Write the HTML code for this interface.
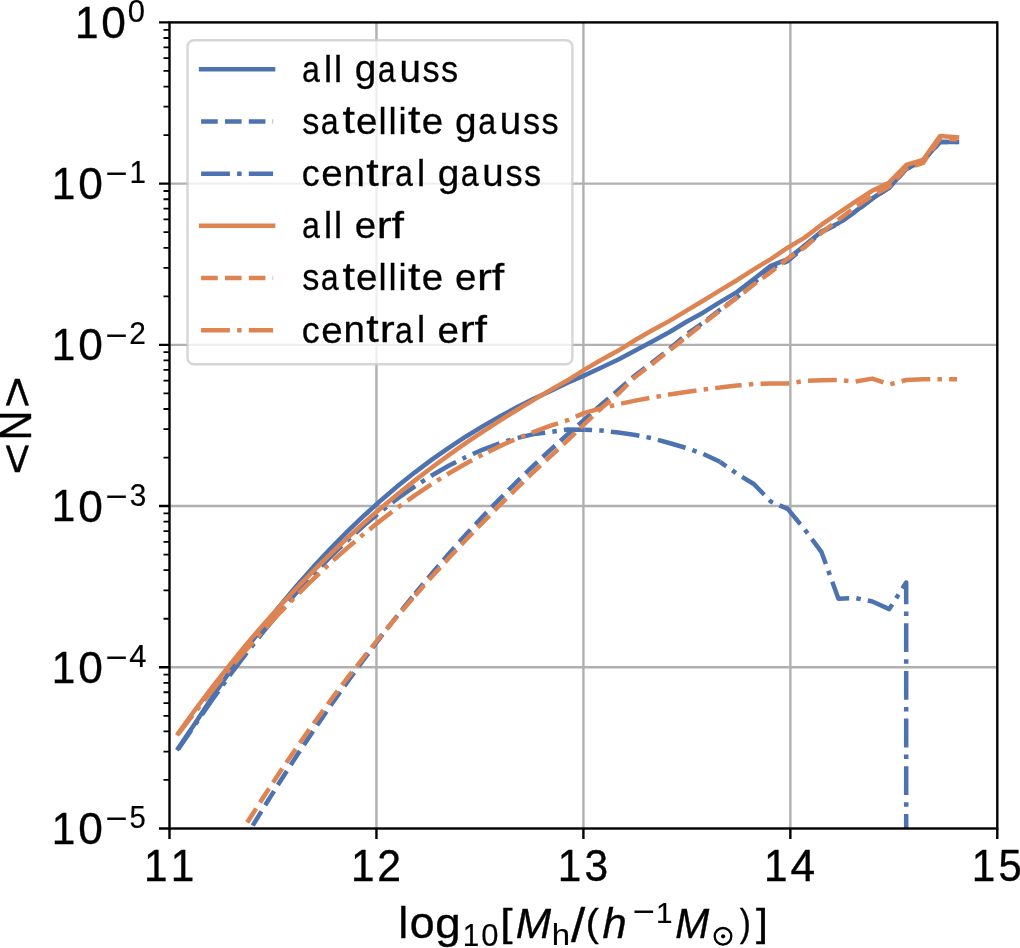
<!DOCTYPE html><html><head><meta charset="utf-8"><style>html,body{margin:0;padding:0;background:#fff;overflow:hidden}svg{display:block;will-change:transform}text{font-family:"Liberation Sans",sans-serif;fill:#000}</style></head><body><svg width="1020" height="948" viewBox="0 0 1020 948"><rect x="0" y="0" width="1020" height="948" fill="#fff"/><defs><clipPath id="ax"><rect x="169.5" y="22.4" width="827.80" height="806.10"/></clipPath></defs><path d="M376.45,22.4V828.5M583.40,22.4V828.5M790.35,22.4V828.5M169.5,183.62H997.3M169.5,344.84H997.3M169.5,506.06H997.3M169.5,667.28H997.3" stroke="#b0b0b0" stroke-width="2.4" fill="none"/><g clip-path="url(#ax)" fill="none" stroke-linejoin="round"><path d="M178.20,748.30 L195.13,723.33 L212.06,697.48 L228.99,672.83 L245.92,649.08 L262.85,626.95 L279.78,605.84 L296.71,585.75 L313.64,566.66 L330.57,548.56 L347.50,531.42 L364.43,515.22 L381.36,499.95 L398.29,485.58 L415.22,472.08 L432.15,459.42 L449.08,447.56 L466.01,436.47 L482.94,426.10 L499.87,416.40 L516.80,407.31 L533.73,398.78 L550.66,390.95 L567.59,382.75 L584.52,375.32 L601.45,367.50 L618.38,359.55 L635.31,350.47 L652.24,341.47 L669.17,332.29 L686.10,322.00 L703.03,312.70 L719.96,302.20 L736.89,292.10 L753.82,279.00 L770.75,265.80 L787.68,259.10 L804.61,245.60 L821.54,231.60 L838.47,223.20 L855.40,211.40 L872.33,198.50 L889.26,187.50 L906.19,168.90 L923.12,160.50 L940.05,142.10 L956.98,142.10" stroke="#4c72b0" stroke-width="4.5" stroke-linecap="square"/><path d="M178.20,956.12 L195.13,925.03 L212.06,894.78 L228.99,865.36 L245.92,836.76 L262.85,808.96 L279.78,781.96 L296.71,755.75 L313.64,730.32 L330.57,705.65 L347.50,681.73 L364.43,658.56 L381.36,636.12 L398.29,614.41 L415.22,593.41" stroke="#4c72b0" stroke-width="4.5" stroke-linecap="butt" stroke-dasharray="16.65 7.2" stroke-dashoffset="16.61"/><path d="M415.22,593.41 L432.15,573.11 L449.08,553.50 L466.01,534.58 L482.94,516.32 L499.87,498.72 L516.80,481.77 L533.73,465.46 L550.66,449.60 L567.59,434.40 L584.52,419.50 L601.45,404.50 L618.38,390.00 L635.31,375.20 L652.24,362.60 L669.17,349.00 L686.10,334.67 L703.03,322.71 L719.96,309.76 L736.89,297.54 L753.82,282.85 L770.75,268.26 L787.68,261.10 L804.61,246.83 L821.54,232.32 L838.47,223.53 L855.40,211.68 L872.33,198.72 L889.26,187.67 L906.19,169.09 L923.12,160.50 L940.05,142.10 L956.98,142.10" stroke="#4c72b0" stroke-width="4.5" stroke-linecap="butt" stroke-dasharray="16.65 7.2" stroke-dashoffset="3.92"/><path d="M178.20,749.30 L195.13,724.61 L212.06,700.01 L228.99,676.42 L245.92,653.85 L262.85,632.32 L279.78,611.82 L296.71,592.36 L313.64,573.96 L330.57,556.61 L347.50,540.34 L364.43,525.14 L381.36,511.03 L398.29,498.00 L415.22,486.08" stroke="#4c72b0" stroke-width="4.5" stroke-linecap="butt" stroke-dasharray="28.8 7.2 4.5 7.2" stroke-dashoffset="5.72"/><path d="M415.22,486.08 L432.15,475.27 L449.08,465.57 L466.01,457.00" stroke="#4c72b0" stroke-width="4.5" stroke-linecap="butt" stroke-dasharray="28.8 7.2 4.5 7.2" stroke-dashoffset="28.98"/><path d="M466.01,457.00 L482.94,449.56 L499.87,443.26 L516.80,438.11 L533.73,434.12" stroke="#4c72b0" stroke-width="4.5" stroke-linecap="butt" stroke-dasharray="28.8 7.2 4.5 7.2" stroke-dashoffset="40.22"/><path d="M533.73,434.12 L550.66,432.00 L567.59,429.50 L584.52,429.67" stroke="#4c72b0" stroke-width="4.5" stroke-linecap="butt" stroke-dasharray="28.8 7.2 4.5 7.2" stroke-dashoffset="17.25"/><path d="M584.52,429.67 L601.45,430.49 L618.38,432.60 L635.31,435.03 L652.24,438.20 L669.17,442.99 L686.10,447.93 L703.03,453.85 L719.96,461.80" stroke="#4c72b0" stroke-width="4.5" stroke-linecap="butt" stroke-dasharray="28.8 7.2 4.5 7.2" stroke-dashoffset="21.21"/><path d="M719.96,461.80 L736.89,473.70 L753.82,484.00 L770.75,501.50 L787.68,508.90 L804.61,529.30 L821.54,552.20 L838.47,598.80 L855.40,598.00 L872.33,601.50 L889.26,609.10 L906.19,582.50 L906.20,2000.00" stroke="#4c72b0" stroke-width="4.5" stroke-linecap="butt" stroke-dasharray="28.8 7.2 4.5 7.2" stroke-dashoffset="20.99"/><path d="M178.20,733.40 L195.13,709.76 L212.06,687.44 L228.99,665.99 L245.92,644.88 L262.85,625.18 L279.78,606.25 L296.71,588.07 L313.64,570.62 L330.57,553.88 L347.50,537.83 L364.43,522.45 L381.36,507.72 L398.29,493.62 L415.22,480.12 L432.15,467.20 L449.08,454.82 L466.01,442.95 L482.94,431.55 L499.87,420.60 L516.80,410.03 L533.73,399.82 L550.66,389.88 L567.59,380.32 L584.52,369.61 L601.45,359.80 L618.38,350.54 L635.31,340.03 L652.24,330.31 L669.17,321.11 L686.10,310.90 L703.03,300.70 L719.96,290.40 L736.89,280.20 L753.82,269.40 L770.75,259.10 L787.68,247.70 L804.61,237.60 L821.54,224.70 L838.47,213.00 L855.40,201.60 L872.33,190.70 L889.26,182.40 L906.19,165.00 L923.12,159.80 L940.05,136.00 L956.98,137.30" stroke="#dd8452" stroke-width="4.5" stroke-linecap="square"/><path d="M178.20,941.50 L195.13,910.66 L212.06,880.93 L228.99,852.26 L245.92,824.61 L262.85,797.94 L279.78,772.22 L296.71,747.39 L313.64,723.43 L330.57,700.28 L347.50,677.91 L364.43,656.29 L381.36,635.36 L398.29,615.09 L415.22,595.43" stroke="#dd8452" stroke-width="4.5" stroke-linecap="butt" stroke-dasharray="16.65 7.2" stroke-dashoffset="5.58"/><path d="M415.22,595.43 L432.15,576.36 L449.08,557.82 L466.01,539.78 L482.94,522.19 L499.87,505.02 L516.80,488.22 L533.73,471.76 L550.66,456.10 L567.59,440.30 L584.52,424.00 L601.45,408.00 L618.38,393.60 L635.31,376.70 L652.24,364.10 L669.17,350.50 L686.10,337.27" stroke="#dd8452" stroke-width="4.5" stroke-linecap="butt" stroke-dasharray="16.65 7.2" stroke-dashoffset="3.00"/><path d="M686.10,337.27 L703.03,323.76 L719.96,310.52 L736.89,297.77 L753.82,284.54 L770.75,272.08 L787.68,258.57 L804.61,247.27 L821.54,232.74 L838.47,219.76 L855.40,207.17 L872.33,195.65 L889.26,186.42 L906.19,168.33 L923.12,162.92 L940.05,138.21 L956.98,139.55" stroke="#dd8452" stroke-width="4.5" stroke-linecap="butt" stroke-dasharray="16.65 7.2" stroke-dashoffset="22.73"/><path d="M178.20,734.20 L195.13,711.99 L212.06,690.55 L228.99,669.93 L245.92,650.10 L262.85,631.07 L279.78,612.84 L296.71,595.40 L313.64,578.74 L330.57,562.86 L347.50,547.77 L364.43,533.44 L381.36,519.88 L398.29,507.09 L415.22,495.06 L432.15,483.79" stroke="#dd8452" stroke-width="4.5" stroke-linecap="butt" stroke-dasharray="28.8 7.2 4.5 7.2" stroke-dashoffset="5.24"/><path d="M432.15,483.79 L449.08,473.26 L466.01,463.49 L482.94,454.46" stroke="#dd8452" stroke-width="4.5" stroke-linecap="butt" stroke-dasharray="28.8 7.2 4.5 7.2" stroke-dashoffset="30.12"/><path d="M482.94,454.46 L499.87,446.17 L516.80,438.61 L533.73,431.79 L550.66,425.70" stroke="#dd8452" stroke-width="4.5" stroke-linecap="butt" stroke-dasharray="28.8 7.2 4.5 7.2" stroke-dashoffset="41.81"/><path d="M550.66,425.70 L567.59,420.20 L584.52,412.86 L601.45,408.13" stroke="#dd8452" stroke-width="4.5" stroke-linecap="butt" stroke-dasharray="28.8 7.2 4.5 7.2" stroke-dashoffset="20.99"/><path d="M601.45,408.13 L618.38,404.20 L635.31,400.64 L652.24,397.38 L669.17,394.55 L686.10,392.04 L703.03,389.68 L719.96,387.52" stroke="#dd8452" stroke-width="4.5" stroke-linecap="butt" stroke-dasharray="28.8 7.2 4.5 7.2" stroke-dashoffset="27.50"/><path d="M719.96,387.52 L736.89,385.60 L753.82,384.06 L770.75,383.50 L787.68,383.50 L804.61,381.00 L821.54,380.20 L838.47,380.00 L855.40,381.60 L872.33,378.60 L889.26,384.50 L906.19,380.00 L923.12,379.20 L940.05,379.20 L956.98,379.20" stroke="#dd8452" stroke-width="4.5" stroke-linecap="butt" stroke-dasharray="28.8 7.2 4.5 7.2" stroke-dashoffset="6.98"/></g><rect x="187.5" y="40.2" width="384.9" height="324.1" rx="6.5" ry="6.5" fill="#fff" fill-opacity="0.8" stroke="#ccc" stroke-opacity="0.8" stroke-width="2.4"/><path d="M201.1,69.30H273.1" stroke="#4c72b0" stroke-width="4.5" stroke-linecap="square" fill="none"/><path d="M201.1,121.48H273.1" stroke="#4c72b0" stroke-width="4.5" stroke-linecap="butt" fill="none" stroke-dasharray="16.65 7.2"/><path d="M201.1,173.66H273.1" stroke="#4c72b0" stroke-width="4.5" stroke-linecap="butt" fill="none" stroke-dasharray="28.8 7.2 4.5 7.2"/><path d="M201.1,225.84H273.1" stroke="#dd8452" stroke-width="4.5" stroke-linecap="square" fill="none"/><path d="M201.1,278.02H273.1" stroke="#dd8452" stroke-width="4.5" stroke-linecap="butt" fill="none" stroke-dasharray="16.65 7.2"/><path d="M201.1,330.20H273.1" stroke="#dd8452" stroke-width="4.5" stroke-linecap="butt" fill="none" stroke-dasharray="28.8 7.2 4.5 7.2"/><rect x="169.5" y="22.4" width="827.80" height="806.10" fill="none" stroke="#000" stroke-width="2.4" stroke-linejoin="miter"/><path d="M159.00,22.40H169.5M159.00,183.62H169.5M159.00,344.84H169.5M159.00,506.06H169.5M159.00,667.28H169.5M159.00,828.50H169.5M169.50,828.5V839.00M376.45,828.5V839.00M583.40,828.5V839.00M790.35,828.5V839.00M997.30,828.5V839.00" stroke="#000" stroke-width="2.4" fill="none"/><path d="M163.50,135.09H169.5M163.50,106.70H169.5M163.50,86.56H169.5M163.50,70.93H169.5M163.50,58.17H169.5M163.50,47.37H169.5M163.50,38.02H169.5M163.50,29.78H169.5M163.50,296.31H169.5M163.50,267.92H169.5M163.50,247.78H169.5M163.50,232.15H169.5M163.50,219.39H169.5M163.50,208.59H169.5M163.50,199.24H169.5M163.50,191.00H169.5M163.50,457.53H169.5M163.50,429.14H169.5M163.50,409.00H169.5M163.50,393.37H169.5M163.50,380.61H169.5M163.50,369.81H169.5M163.50,360.46H169.5M163.50,352.22H169.5M163.50,618.75H169.5M163.50,590.36H169.5M163.50,570.22H169.5M163.50,554.59H169.5M163.50,541.83H169.5M163.50,531.03H169.5M163.50,521.68H169.5M163.50,513.44H169.5M163.50,779.97H169.5M163.50,751.58H169.5M163.50,731.44H169.5M163.50,715.81H169.5M163.50,703.05H169.5M163.50,692.25H169.5M163.50,682.90H169.5M163.50,674.66H169.5" stroke="#000" stroke-width="1.8" fill="none"/><text transform="translate(302.04,81.69) scale(0.8026,0.9355)" font-size="40" stroke="#000" stroke-width="0.30">a</text><text transform="translate(324.04,81.55) scale(0.9123,0.9358)" font-size="40" stroke="#000" stroke-width="0.30">l</text><text transform="translate(333.96,81.55) scale(0.9123,0.9358)" font-size="40" stroke="#000" stroke-width="0.30">l</text><text transform="translate(354.66,81.33) scale(0.9700,0.9212)" font-size="40" stroke="#000" stroke-width="0.30">g</text><text transform="translate(377.76,81.69) scale(0.8026,0.9355)" font-size="40" stroke="#000" stroke-width="0.30">a</text><text transform="translate(399.39,81.68) scale(0.9623,0.9524)" font-size="40" stroke="#000" stroke-width="0.30">u</text><text transform="translate(422.46,81.69) scale(0.8555,0.9380)" font-size="40" stroke="#000" stroke-width="0.30">s</text><text transform="translate(441.06,81.69) scale(0.8555,0.9380)" font-size="40" stroke="#000" stroke-width="0.30">s</text><text transform="translate(302.24,133.87) scale(0.8555,0.9380)" font-size="40" stroke="#000" stroke-width="0.30">s</text><text transform="translate(320.64,133.87) scale(0.8026,0.9355)" font-size="40" stroke="#000" stroke-width="0.30">a</text><text transform="translate(342.38,133.43) scale(1.1200,0.9578)" font-size="40" stroke="#000" stroke-width="0.30">t</text><text transform="translate(356.06,133.87) scale(0.9640,0.9355)" font-size="40" stroke="#000" stroke-width="0.30">e</text><text transform="translate(378.60,133.73) scale(0.9123,0.9358)" font-size="40" stroke="#000" stroke-width="0.30">l</text><text transform="translate(388.52,133.73) scale(0.9123,0.9358)" font-size="40" stroke="#000" stroke-width="0.30">l</text><text transform="translate(398.45,133.73) scale(0.9123,0.9358)" font-size="40" stroke="#000" stroke-width="0.30">i</text><text transform="translate(408.10,133.43) scale(1.1200,0.9578)" font-size="40" stroke="#000" stroke-width="0.30">t</text><text transform="translate(421.78,133.87) scale(0.9640,0.9355)" font-size="40" stroke="#000" stroke-width="0.30">e</text><text transform="translate(455.10,133.51) scale(0.9700,0.9212)" font-size="40" stroke="#000" stroke-width="0.30">g</text><text transform="translate(478.20,133.87) scale(0.8026,0.9355)" font-size="40" stroke="#000" stroke-width="0.30">a</text><text transform="translate(499.83,133.86) scale(0.9623,0.9524)" font-size="40" stroke="#000" stroke-width="0.30">u</text><text transform="translate(522.91,133.87) scale(0.8555,0.9380)" font-size="40" stroke="#000" stroke-width="0.30">s</text><text transform="translate(541.51,133.87) scale(0.8555,0.9380)" font-size="40" stroke="#000" stroke-width="0.30">s</text><text transform="translate(301.70,186.05) scale(0.8955,0.9355)" font-size="40" stroke="#000" stroke-width="0.30">c</text><text transform="translate(321.22,186.05) scale(0.9640,0.9355)" font-size="40" stroke="#000" stroke-width="0.30">e</text><text transform="translate(343.53,185.91) scale(0.9623,0.9289)" font-size="40" stroke="#000" stroke-width="0.30">n</text><text transform="translate(366.13,185.61) scale(1.1200,0.9578)" font-size="40" stroke="#000" stroke-width="0.30">t</text><text transform="translate(379.86,185.91) scale(1.1200,0.9289)" font-size="40" stroke="#000" stroke-width="0.30">r</text><text transform="translate(394.93,186.05) scale(0.8026,0.9355)" font-size="40" stroke="#000" stroke-width="0.30">a</text><text transform="translate(416.93,185.91) scale(0.9123,0.9358)" font-size="40" stroke="#000" stroke-width="0.30">l</text><text transform="translate(437.63,185.69) scale(0.9700,0.9212)" font-size="40" stroke="#000" stroke-width="0.30">g</text><text transform="translate(460.73,186.05) scale(0.8026,0.9355)" font-size="40" stroke="#000" stroke-width="0.30">a</text><text transform="translate(482.36,186.04) scale(0.9623,0.9524)" font-size="40" stroke="#000" stroke-width="0.30">u</text><text transform="translate(505.44,186.05) scale(0.8555,0.9380)" font-size="40" stroke="#000" stroke-width="0.30">s</text><text transform="translate(524.04,186.05) scale(0.8555,0.9380)" font-size="40" stroke="#000" stroke-width="0.30">s</text><text transform="translate(302.04,238.23) scale(0.8026,0.9355)" font-size="40" stroke="#000" stroke-width="0.30">a</text><text transform="translate(324.04,238.09) scale(0.9123,0.9358)" font-size="40" stroke="#000" stroke-width="0.30">l</text><text transform="translate(333.96,238.09) scale(0.9123,0.9358)" font-size="40" stroke="#000" stroke-width="0.30">l</text><text transform="translate(354.65,238.23) scale(0.9640,0.9355)" font-size="40" stroke="#000" stroke-width="0.30">e</text><text transform="translate(376.67,238.09) scale(1.1200,0.9289)" font-size="40" stroke="#000" stroke-width="0.30">r</text><text transform="translate(391.42,238.09) scale(1.1200,0.9371)" font-size="40" stroke="#000" stroke-width="0.30">f</text><text transform="translate(302.24,290.41) scale(0.8555,0.9380)" font-size="40" stroke="#000" stroke-width="0.30">s</text><text transform="translate(320.64,290.41) scale(0.8026,0.9355)" font-size="40" stroke="#000" stroke-width="0.30">a</text><text transform="translate(342.38,289.97) scale(1.1200,0.9578)" font-size="40" stroke="#000" stroke-width="0.30">t</text><text transform="translate(356.06,290.41) scale(0.9640,0.9355)" font-size="40" stroke="#000" stroke-width="0.30">e</text><text transform="translate(378.60,290.27) scale(0.9123,0.9358)" font-size="40" stroke="#000" stroke-width="0.30">l</text><text transform="translate(388.52,290.27) scale(0.9123,0.9358)" font-size="40" stroke="#000" stroke-width="0.30">l</text><text transform="translate(398.45,290.27) scale(0.9123,0.9358)" font-size="40" stroke="#000" stroke-width="0.30">i</text><text transform="translate(408.10,289.97) scale(1.1200,0.9578)" font-size="40" stroke="#000" stroke-width="0.30">t</text><text transform="translate(421.78,290.41) scale(0.9640,0.9355)" font-size="40" stroke="#000" stroke-width="0.30">e</text><text transform="translate(455.09,290.41) scale(0.9640,0.9355)" font-size="40" stroke="#000" stroke-width="0.30">e</text><text transform="translate(477.11,290.27) scale(1.1200,0.9289)" font-size="40" stroke="#000" stroke-width="0.30">r</text><text transform="translate(491.86,290.27) scale(1.1200,0.9371)" font-size="40" stroke="#000" stroke-width="0.30">f</text><text transform="translate(301.70,342.59) scale(0.8955,0.9355)" font-size="40" stroke="#000" stroke-width="0.30">c</text><text transform="translate(321.22,342.59) scale(0.9640,0.9355)" font-size="40" stroke="#000" stroke-width="0.30">e</text><text transform="translate(343.53,342.45) scale(0.9623,0.9289)" font-size="40" stroke="#000" stroke-width="0.30">n</text><text transform="translate(366.13,342.15) scale(1.1200,0.9578)" font-size="40" stroke="#000" stroke-width="0.30">t</text><text transform="translate(379.86,342.45) scale(1.1200,0.9289)" font-size="40" stroke="#000" stroke-width="0.30">r</text><text transform="translate(394.93,342.59) scale(0.8026,0.9355)" font-size="40" stroke="#000" stroke-width="0.30">a</text><text transform="translate(416.93,342.45) scale(0.9123,0.9358)" font-size="40" stroke="#000" stroke-width="0.30">l</text><text transform="translate(437.62,342.59) scale(0.9640,0.9355)" font-size="40" stroke="#000" stroke-width="0.30">e</text><text transform="translate(459.64,342.45) scale(1.1200,0.9289)" font-size="40" stroke="#000" stroke-width="0.30">r</text><text transform="translate(474.39,342.45) scale(1.1200,0.9371)" font-size="40" stroke="#000" stroke-width="0.30">f</text><text transform="translate(74.98,37.80) scale(1.0571,1.1126)" font-size="40" stroke="#000" stroke-width="0.35">1</text><text transform="translate(101.35,37.96) scale(1.1068,1.1217)" font-size="40" stroke="#000" stroke-width="0.35">0</text><text transform="translate(127.76,22.11) scale(0.7748,0.7852)" font-size="40" stroke="#000" stroke-width="0.24">0</text><text transform="translate(51.84,199.02) scale(1.0571,1.1126)" font-size="40" stroke="#000" stroke-width="0.35">1</text><text transform="translate(78.21,199.18) scale(1.1068,1.1217)" font-size="40" stroke="#000" stroke-width="0.35">0</text><text transform="translate(105.14,185.39) scale(0.9470,0.8558)" font-size="40" stroke="#000" stroke-width="0.24">−</text><text transform="translate(129.50,183.22) scale(0.7400,0.7788)" font-size="40" stroke="#000" stroke-width="0.24">1</text><text transform="translate(51.84,360.24) scale(1.0571,1.1126)" font-size="40" stroke="#000" stroke-width="0.35">1</text><text transform="translate(78.21,360.40) scale(1.1068,1.1217)" font-size="40" stroke="#000" stroke-width="0.35">0</text><text transform="translate(105.14,346.61) scale(0.9470,0.8558)" font-size="40" stroke="#000" stroke-width="0.24">−</text><text transform="translate(129.17,344.44) scale(0.7468,0.7813)" font-size="40" stroke="#000" stroke-width="0.24">2</text><text transform="translate(51.84,521.46) scale(1.0571,1.1126)" font-size="40" stroke="#000" stroke-width="0.35">1</text><text transform="translate(78.21,521.62) scale(1.1068,1.1217)" font-size="40" stroke="#000" stroke-width="0.35">0</text><text transform="translate(105.14,507.83) scale(0.9470,0.8558)" font-size="40" stroke="#000" stroke-width="0.24">−</text><text transform="translate(129.63,505.77) scale(0.7441,0.7852)" font-size="40" stroke="#000" stroke-width="0.24">3</text><text transform="translate(51.84,682.68) scale(1.0571,1.1126)" font-size="40" stroke="#000" stroke-width="0.35">1</text><text transform="translate(78.21,682.84) scale(1.1068,1.1217)" font-size="40" stroke="#000" stroke-width="0.35">0</text><text transform="translate(105.14,669.05) scale(0.9470,0.8558)" font-size="40" stroke="#000" stroke-width="0.24">−</text><text transform="translate(129.25,666.88) scale(0.7749,0.7788)" font-size="40" stroke="#000" stroke-width="0.24">4</text><text transform="translate(51.84,843.90) scale(1.0571,1.1126)" font-size="40" stroke="#000" stroke-width="0.35">1</text><text transform="translate(78.21,844.06) scale(1.1068,1.1217)" font-size="40" stroke="#000" stroke-width="0.35">0</text><text transform="translate(105.14,830.27) scale(0.9470,0.8558)" font-size="40" stroke="#000" stroke-width="0.24">−</text><text transform="translate(129.62,828.21) scale(0.7312,0.7828)" font-size="40" stroke="#000" stroke-width="0.24">5</text><text transform="translate(144.00,881.30) scale(1.0571,1.1126)" font-size="40" stroke="#000" stroke-width="0.35">1</text><text transform="translate(170.72,881.30) scale(1.0571,1.1126)" font-size="40" stroke="#000" stroke-width="0.35">1</text><text transform="translate(351.12,881.30) scale(1.0571,1.1126)" font-size="40" stroke="#000" stroke-width="0.35">1</text><text transform="translate(377.37,881.30) scale(1.0669,1.1161)" font-size="40" stroke="#000" stroke-width="0.35">2</text><text transform="translate(557.65,881.30) scale(1.0571,1.1126)" font-size="40" stroke="#000" stroke-width="0.35">1</text><text transform="translate(584.55,881.46) scale(1.0630,1.1217)" font-size="40" stroke="#000" stroke-width="0.35">3</text><text transform="translate(764.09,881.30) scale(1.0571,1.1126)" font-size="40" stroke="#000" stroke-width="0.35">1</text><text transform="translate(790.46,881.30) scale(1.1070,1.1126)" font-size="40" stroke="#000" stroke-width="0.35">4</text><text transform="translate(971.70,881.30) scale(1.0571,1.1126)" font-size="40" stroke="#000" stroke-width="0.35">1</text><text transform="translate(998.60,881.46) scale(1.0446,1.1183)" font-size="40" stroke="#000" stroke-width="0.35">5</text><text transform="translate(398.61,938.30) scale(1.0733,1.1009)" font-size="40" stroke="#000" stroke-width="0.35">l</text><text transform="translate(409.65,938.46) scale(1.1162,1.1005)" font-size="40" stroke="#000" stroke-width="0.35">o</text><text transform="translate(435.31,938.04) scale(1.1412,1.0838)" font-size="40" stroke="#000" stroke-width="0.35">g</text><text transform="translate(462.75,945.50) scale(0.7400,0.7788)" font-size="40" stroke="#000" stroke-width="0.24">1</text><text transform="translate(481.20,945.61) scale(0.7748,0.7852)" font-size="40" stroke="#000" stroke-width="0.24">0</text><text transform="translate(500.34,935.55) scale(1.1070,0.9816)" font-size="40" stroke="#000" stroke-width="0.35">[</text><text transform="translate(515.70,938.30) scale(1.0595,1.0792)" font-size="40" font-style="italic" stroke="#000" stroke-width="0.35">M</text><text transform="translate(551.72,945.00) scale(0.8237,0.7418)" font-size="40" stroke="#000" stroke-width="0.24">h</text><text transform="translate(571.00,941.93) scale(1.2778,1.2017)" font-size="40" stroke="#000" stroke-width="0.35">/</text><text transform="translate(585.74,935.57) scale(0.9901,0.9821)" font-size="40" stroke="#000" stroke-width="0.35">(</text><text transform="translate(602.48,938.40) scale(1.0888,1.0799)" font-size="40" font-style="italic" stroke="#000" stroke-width="0.35">h</text><text transform="translate(632.53,923.05) scale(0.9468,0.8592)" font-size="40" stroke="#000" stroke-width="0.24">−</text><text transform="translate(655.94,922.60) scale(0.7422,0.7377)" font-size="40" stroke="#000" stroke-width="0.24">1</text><text transform="translate(675.25,938.00) scale(1.0190,1.0720)" font-size="40" font-style="italic" stroke="#000" stroke-width="0.35">M</text><circle cx="723.0" cy="936.3" r="8.3" fill="none" stroke="#000" stroke-width="2.3"/><circle cx="723.1" cy="936.3" r="2.1" fill="#000"/><text transform="translate(739.81,935.58) scale(0.8298,0.9929)" font-size="40" stroke="#000" stroke-width="0.35">)</text><text transform="translate(755.97,935.56) scale(1.0693,0.9924)" font-size="40" stroke="#000" stroke-width="0.35">]</text><text transform="translate(32.10,474.67) rotate(-90) scale(1.3529,1.1065)" font-size="40" stroke="#000" stroke-width="0.35">&lt;</text><text transform="translate(30.70,440.54) rotate(-90) scale(1.0372,1.1126)" font-size="40" stroke="#000" stroke-width="0.35">N</text><text transform="translate(32.10,408.06) rotate(-90) scale(1.3529,1.1065)" font-size="40" stroke="#000" stroke-width="0.35">&gt;</text></svg></body></html>
